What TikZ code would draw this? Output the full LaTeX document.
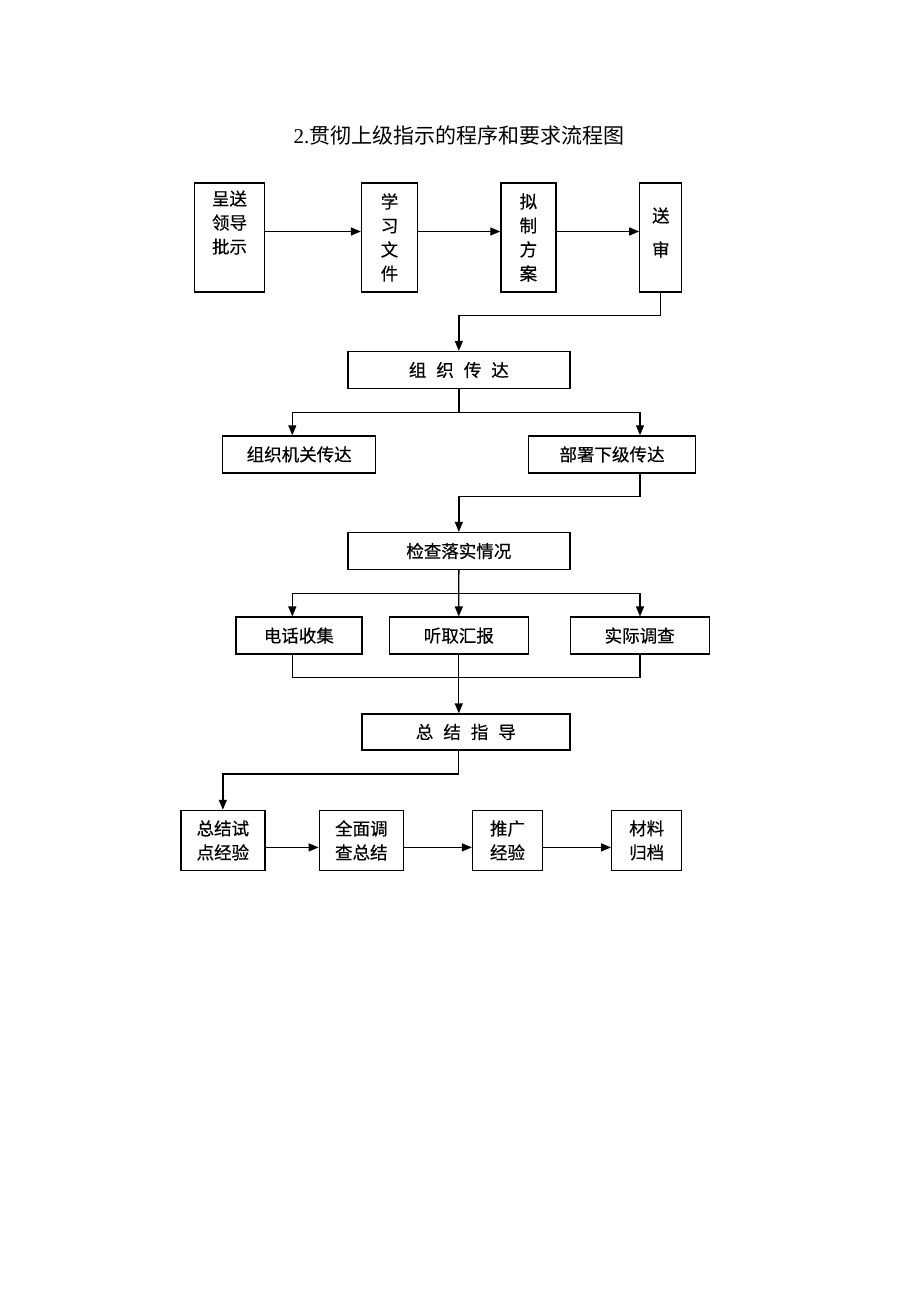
\documentclass[tikz,border=0pt]{standalone}
\usepackage{fontspec}
\setmainfont{Liberation Serif}
\newfontfamily\cjk{Noto Sans CJK SC}
\newfontfamily\cjkb{Noto Sans CJK SC}[FakeBold=0.5]
\usetikzlibrary{arrows.meta}
\tikzset{
  box/.style={draw=black, line width=1.3pt, rectangle, inner sep=0pt, align=center,
    font=\cjkb\fontsize{17.5}{24}\selectfont},
  txt/.style={inner sep=0pt, align=center, font=\cjkb\fontsize{17.5}{24}\selectfont},
  conn/.style={draw=black, line width=1.3pt},
  arr/.style={conn, -{Triangle[length=10pt,width=8pt]}}
}
\newcommand{\gap}{\hspace{10pt}}
\begin{document}
\begin{tikzpicture}[x=1pt,y=-1pt]
\useasboundingbox[fill=white] (0,0) rectangle (920,1302);
% title
\node (T) at (459,135) {\fontsize{21}{24}\selectfont 2.{\cjk 贯彻上级指示的程序和要求流程图}};
% top row
\node[box, minimum width=70pt, minimum height=109pt] (A) at (229.5,237.5) {呈送\\领导\\批示\\\strut};
\node[box, minimum width=56pt, minimum height=109pt] (B) at (389.5,237.5) {学\\习\\文\\件};
\node[box, minimum width=55pt, minimum height=109pt] (C) at (528.4,237.5) {拟\\制\\方\\案};
\node[box, minimum width=42pt, minimum height=109pt] (D) at (660.8,237.5) {};
\node[txt] (Dt) at ([yshift=5pt]D.center) {送\\[10pt]审};
\draw[arr] ([yshift=6pt]A.east) -- ([yshift=6pt]B.west);
\draw[arr] ([yshift=6pt]B.east) -- ([yshift=6pt]C.west);
\draw[arr] ([yshift=6pt]C.east) -- ([yshift=6pt]D.west);
% organize
\node[box, minimum width=222pt, minimum height=37pt] (E) at (458.85,370) {组\gap 织\gap 传\gap 达};
\coordinate (j1) at (458.85,315.7);
\draw[arr] (D.south) |- (j1) -- (E.north);
\node[box, minimum width=153pt, minimum height=37pt] (F) at (299.2,454.4) {组织机关传达};
\node[box, minimum width=167pt, minimum height=37pt] (G) at (612,454.4) {部署下级传达};
\coordinate (e1) at (458.85,412.7);
\coordinate (f1) at (292.3,412.7);
\coordinate (g1) at (640,412.7);
\draw[conn] (E.south) -- (e1);
\draw[arr] (e1) -- (f1) -- (f1 |- F.north);
\draw[arr] (e1) -- (g1) -- (g1 |- G.north);
% check
\node[box, minimum width=222pt, minimum height=37pt] (H) at (458.85,551) {检查落实情况};
\coordinate (h1) at (458.85,496.7);
\draw[arr] (g1 |- G.south) |- (h1) -- (H.north);
\node[box, minimum width=126pt, minimum height=37pt] (I) at (298.85,635.6) {电话收集};
\node[box, minimum width=139pt, minimum height=37pt] (J) at (458.8,635.6) {听取汇报};
\node[box, minimum width=139pt, minimum height=37pt] (K) at (639.65,635.6) {实际调查};
\coordinate (k1) at (458.85,593.3);
\coordinate (k2) at (292.3,593.3);
\coordinate (k3) at (640,593.3);
\draw[arr] (H.south) -- (J.north);
\draw[arr] (k1) -- (k2) -- (k2 |- I.north);
\draw[arr] (k1) -- (k3) -- (k3 |- K.north);
% merge
\node[box, minimum width=208pt, minimum height=36pt] (L) at (465.85,732) {总\gap 结\gap 指\gap 导};
\coordinate (m1) at (292.3,677.7);
\coordinate (m2) at (640,677.7);
\draw[conn] (m1 |- I.south) -- (m1) -- (m2) -- (m2 |- K.south);
\draw[arr] (J.south) -- (J.south |- L.north);
% bottom row
\node[box, minimum width=84pt, minimum height=60pt] (M) at (222.85,840.4) {总结试\\点经验};
\node[box, minimum width=84pt, minimum height=60pt] (N) at (361.3,840.4) {全面调\\查总结};
\node[box, minimum width=70pt, minimum height=60pt] (O) at (507.5,840.4) {推广\\经验};
\node[box, minimum width=70pt, minimum height=60pt] (P) at (646.7,840.4) {材料\\归档};
\coordinate (l1) at (458.8,774);
\draw[arr] (J.south |- L.south) -- (l1) -| (M.north);
\draw[arr] ([yshift=-7pt]M.east) -- ([yshift=-7pt]N.west);
\draw[arr] ([yshift=-7pt]N.east) -- ([yshift=-7pt]O.west);
\draw[arr] ([yshift=-7pt]O.east) -- ([yshift=-7pt]P.west);
\end{tikzpicture}
\end{document}
